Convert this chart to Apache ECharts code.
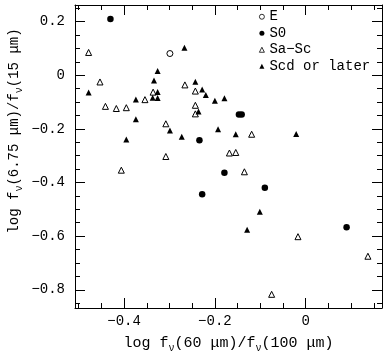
<!DOCTYPE html>
<html>
<head>
<meta charset="utf-8">
<script src="https://cdn.jsdelivr.net/npm/echarts@6/dist/echarts.min.js"></script>
<style>html,body{margin:0;padding:0;background:#fff}#c{width:386px;height:358px}</style>
</head>
<body>
<div id="c"></div>
<script>
// Data: [log f(60)/f(100), log f(6.75)/f(15)]
const E_data = [[-0.299, 0.081]];
const S0_data = [[-0.430, 0.210], [-0.234, -0.242], [-0.147, -0.146], [-0.141, -0.146], [-0.179, -0.364], [-0.090, -0.420], [-0.228, -0.444], [0.090, -0.567]];
const SaSc_data = [[-0.478, 0.085], [-0.453, -0.025], [-0.266, -0.036], [-0.336, -0.063], [-0.243, -0.059], [-0.354, -0.091], [-0.441, -0.116], [-0.417, -0.124], [-0.395, -0.121], [-0.243, -0.112], [-0.243, -0.144], [-0.308, -0.181], [-0.308, -0.303], [-0.406, -0.354], [-0.119, -0.220], [-0.168, -0.290], [-0.154, -0.288], [-0.135, -0.360], [-0.017, -0.602], [0.137, -0.675], [-0.075, -0.817]];
const Scd_data = [[-0.267, 0.103], [-0.326, 0.016], [-0.334, -0.020], [-0.243, -0.024], [-0.478, -0.064], [-0.326, -0.062], [-0.228, -0.053], [-0.220, -0.074], [-0.337, -0.084], [-0.326, -0.085], [-0.374, -0.090], [-0.200, -0.095], [-0.179, -0.086], [-0.236, -0.135], [-0.374, -0.164], [-0.299, -0.206], [-0.193, -0.201], [-0.273, -0.229], [-0.395, -0.240], [-0.154, -0.220], [-0.021, -0.219], [-0.101, -0.509], [-0.129, -0.576]];

const seriesNames = ['E', 'S0', 'Sa\u2212Sc', 'Scd or later'];
const xMajor = [-0.4, -0.2, 0];
const xMinor = [-0.5, -0.45, -0.35, -0.3, -0.25, -0.15, -0.1, -0.05, 0.05, 0.1, 0.15];
const yMajor = [-0.8, -0.6, -0.4, -0.2, 0, 0.2];
const yMinor = [-0.85, -0.75, -0.7, -0.65, -0.55, -0.5, -0.45, -0.35, -0.3, -0.25, -0.15, -0.1, -0.05, 0.05, 0.1, 0.15, 0.25];
const XMIN = -0.508, XMAX = 0.168, YMIN = -0.868, YMAX = 0.262;

const FONT = 'Liberation Mono';
const fmt = v => (Math.abs(v) < 1e-9 ? '0' : (v < 0 ? '\u2212' : '') + Math.abs(v).toFixed(1));
function makeRich(size) {
  return {
    n: {fontFamily: FONT, fontSize: size, color: '#000', lineHeight: 20, verticalAlign: 'middle'},
    s: {fontFamily: FONT, fontSize: 10, color: '#000', lineHeight: 20, verticalAlign: 'bottom'}
  };
}

function axisPair(kind, pos, major, minor, min, max, withLabels, extra) {
  const base = {type: 'value', position: pos, min: min, max: max, splitLine: {show: false}};
  const a = Object.assign({}, base, {
    axisLine: {show: true, onZero: false, lineStyle: {color: '#000', width: 1}},
    axisTick: {show: true, inside: true, length: 10, customValues: major, lineStyle: {color: '#000', width: 1}},
    axisLabel: withLabels ? {show: true, customValues: major, formatter: fmt, color: '#000', fontFamily: FONT, fontSize: 14, margin: kind === 'x' ? 6 : 10} : {show: false}
  }, extra || {});
  const b = Object.assign({}, base, {
    axisLine: {show: false, onZero: false},
    axisTick: {show: true, inside: true, length: 5, customValues: minor, lineStyle: {color: '#000', width: 1}},
    axisLabel: {show: false}
  });
  return [a, b];
}

const xAxes = [].concat(
  axisPair('x', 'bottom', xMajor, xMinor, XMIN, XMAX, true, {
    name: '{n|log f}{s|\u03bd}{n|(60 \u03bcm)/f}{s|\u03bd}{n|(100 \u03bcm)}',
    nameLocation: 'middle', nameGap: 25,
    nameTextStyle: {rich: makeRich(15)}
  }),
  axisPair('x', 'top', xMajor, xMinor, XMIN, XMAX, false)
);
const yAxes = [].concat(
  axisPair('y', 'left', yMajor, yMinor, YMIN, YMAX, true),
  axisPair('y', 'right', yMajor, yMinor, YMIN, YMAX, false)
);

const openStyle = {color: '#fff', borderColor: '#000', borderWidth: 1, opacity: 1};
const fillStyle = {color: '#000', borderWidth: 0, opacity: 1};

const chart = echarts.init(document.getElementById('c'), null, {renderer: 'canvas'});
chart.setOption({
  animation: false,
  backgroundColor: '#fff',
  grid: {left: 75, right: 4, top: 5, bottom: 47, containLabel: false},
  xAxis: xAxes,
  yAxis: yAxes,
  legend: {
    orient: 'vertical', left: 254, top: 4,
    itemWidth: 5, itemHeight: 5, itemGap: 1,
    textStyle: {fontFamily: FONT, fontSize: 14, color: '#000', lineHeight: 15.5},
    data: [
      {name: seriesNames[0], icon: 'circle', itemStyle: {color: '#fff', borderColor: '#000', borderWidth: 0.8}},
      {name: seriesNames[1], icon: 'circle', itemStyle: {color: '#000', borderWidth: 0}},
      {name: seriesNames[2], icon: 'triangle', itemStyle: {color: '#fff', borderColor: '#000', borderWidth: 0.8}},
      {name: seriesNames[3], icon: 'triangle', itemStyle: {color: '#000', borderWidth: 0}}
    ]
  },
  graphic: [{
    type: 'text', x: 14, y: 131, rotation: Math.PI / 2,
    style: {
      text: '{n|log f}{s|\u03bd}{n|(6.75 \u03bcm)/f}{s|\u03bd}{n|(15 \u03bcm)}',
      rich: makeRich(14), align: 'center', verticalAlign: 'middle'
    }
  }],
  series: [
    {name: seriesNames[0], type: 'scatter', data: E_data, symbol: 'circle', symbolSize: 6, itemStyle: openStyle},
    {name: seriesNames[1], type: 'scatter', data: S0_data, symbol: 'circle', symbolSize: 6.5, itemStyle: fillStyle},
    {name: seriesNames[2], type: 'scatter', data: SaSc_data, symbol: 'triangle', symbolSize: 6, itemStyle: openStyle},
    {name: seriesNames[3], type: 'scatter', data: Scd_data, symbol: 'triangle', symbolSize: 6, itemStyle: fillStyle}
  ]
});
</script>
</body>
</html>
